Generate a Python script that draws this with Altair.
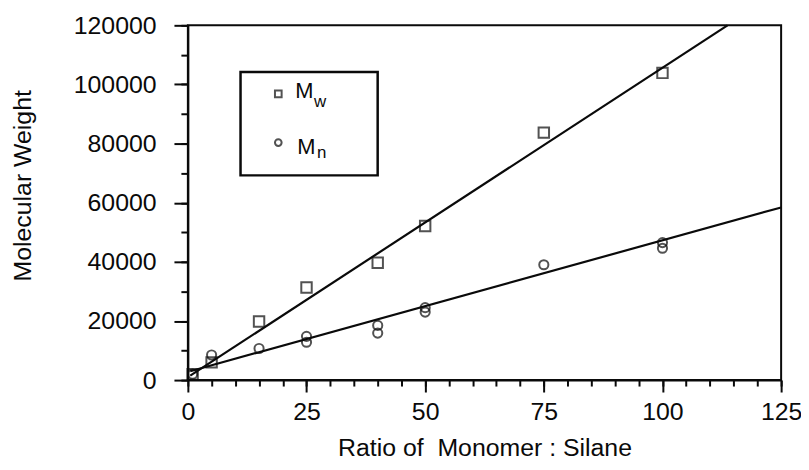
import altair as alt
import pandas as pd

# --- data ---
ratio_mw = [1, 5, 15, 25, 40, 50, 75, 100]
mw = [2000, 6000, 19800, 31300, 39700, 52100, 83700, 103900]

ratio_mn = [1, 5, 15, 25, 25, 40, 40, 50, 50, 75, 100, 100]
mn = [2000, 8500, 10700, 14800, 12800, 18500, 15900, 24500, 23000, 39000, 46500, 44600]

# fitted straight lines (end points)
fit_x_mw = [0.5, 113.7]
fit_y_mw = [1500, 120000]
fit_x_mn = [0.5, 125]
fit_y_mn = [3000, 58400]

x_major = [0, 25, 50, 75, 100, 125]
x_minor = list(range(0, 126, 5))
y_major = list(range(0, 120001, 20000))
y_minor = list(range(0, 120001, 10000))

FONT = "Liberation Sans"
INK = "#0a0a0a"

df_mw = pd.DataFrame({"x": ratio_mw, "y": mw})
df_mn = pd.DataFrame({"x": ratio_mn, "y": mn})
df_fit_mw = pd.DataFrame({"x": fit_x_mw, "y": fit_y_mw})
df_fit_mn = pd.DataFrame({"x": fit_x_mn, "y": fit_y_mn})
one = pd.DataFrame({"a": [0]})

W, H = 597, 357

xscale = alt.Scale(domain=[0, 125], nice=False, zero=False)
yscale = alt.Scale(domain=[0, 120000], nice=False, zero=False)

xaxis_major = alt.Axis(
    orient="bottom",
    title="Ratio of \u00a0Monomer : Silane",
    values=x_major,
    tickSize=12, tickWidth=2, tickColor=INK,
    domainColor=INK, domainWidth=2,
    labelFont=FONT, labelFontSize=25, labelColor=INK, labelPadding=8,
    labelFlush=False, labelOverlap=False,
    titleFont=FONT, titleFontSize=25, titleFontWeight="normal", titleColor=INK,
    titleX=W / 2, titleY=76, titleBaseline="alphabetic", titleAlign="center",
    grid=False,
)
xaxis_minor = alt.Axis(
    orient="bottom", offset=0,
    title=None, values=x_minor, labels=False, domain=False,
    tickSize=6, tickWidth=2, tickColor=INK, grid=False,
)
yaxis_major = alt.Axis(
    orient="left",
    title="Molecular Weight",
    values=y_major,
    format="d",
    tickSize=14, tickWidth=2, tickColor=INK,
    domainColor=INK, domainWidth=2,
    labelFont=FONT, labelFontSize=25, labelColor=INK, labelPadding=18,
    labelFlush=False, labelOverlap=False,
    titleFont=FONT, titleFontSize=25, titleFontWeight="normal", titleColor=INK,
    titleAngle=270, titleX=-158, titleY=161, titleBaseline="alphabetic", titleAlign="center",
    grid=False,
)
yaxis_minor = alt.Axis(
    orient="left", offset=0,
    title=None, values=y_minor, labels=False, domain=False,
    tickSize=7, tickWidth=2, tickColor=INK, grid=False,
)

line_mw = alt.Chart(df_fit_mw).mark_line(color=INK, strokeWidth=2.2).encode(
    x=alt.X("x:Q", scale=xscale, axis=xaxis_major),
    y=alt.Y("y:Q", scale=yscale, axis=yaxis_major))
line_mn = alt.Chart(df_fit_mn).mark_line(color=INK, strokeWidth=2.2).encode(
    x=alt.X("x:Q", scale=xscale, axis=xaxis_minor),
    y=alt.Y("y:Q", scale=yscale, axis=yaxis_minor))

pts_mw = alt.Chart(df_mw).mark_point(shape="square", size=110, filled=False,
                                     color=INK, strokeWidth=2).encode(
    x=alt.X("x:Q", scale=xscale, axis=None),
    y=alt.Y("y:Q", scale=yscale, axis=None))
pts_mn = alt.Chart(df_mn).mark_point(shape="circle", size=85, filled=False,
                                     color=INK, strokeWidth=2).encode(
    x=alt.X("x:Q", scale=xscale, axis=None),
    y=alt.Y("y:Q", scale=yscale, axis=None))

# --- manual legend (pixel positions inside the plot area) ---
leg_box = alt.Chart(one).mark_rect(fill="white", stroke=INK, strokeWidth=2.5).encode(
    x=alt.value(53), x2=alt.value(191), y=alt.value(47), y2=alt.value(151))
leg_sq = alt.Chart(one).mark_point(shape="square", size=45, filled=False, color=INK,
                                   strokeWidth=2).encode(x=alt.value(91), y=alt.value(69))
leg_ci = alt.Chart(one).mark_point(shape="circle", size=45, filled=False, color=INK,
                                   strokeWidth=2).encode(x=alt.value(91), y=alt.value(118))
txt_kw = dict(font=FONT, color=INK, align="left", baseline="alphabetic")
leg_m1 = alt.Chart(one).mark_text(fontSize=22, **txt_kw).encode(
    x=alt.value(108), y=alt.value(73), text=alt.value("M"))
leg_w = alt.Chart(one).mark_text(fontSize=17, **txt_kw).encode(
    x=alt.value(127), y=alt.value(82), text=alt.value("w"))
leg_m2 = alt.Chart(one).mark_text(fontSize=22, **txt_kw).encode(
    x=alt.value(110), y=alt.value(129), text=alt.value("M"))
leg_n = alt.Chart(one).mark_text(fontSize=17, **txt_kw).encode(
    x=alt.value(130), y=alt.value(134), text=alt.value("n"))

chart = alt.layer(
    line_mw, line_mn, pts_mw, pts_mn,
    leg_box, leg_sq, leg_ci, leg_m1, leg_w, leg_m2, leg_n,
).resolve_axis(x="independent", y="independent").properties(
    width=W, height=H,
    autosize=alt.AutoSizeParams(type="none"),
    padding={"left": 181, "top": 16, "right": 20, "bottom": 81},
    background="white",
).configure_view(stroke=INK, strokeWidth=2)

chart.save("out.html", embed_options={"renderer": "svg", "actions": False})
